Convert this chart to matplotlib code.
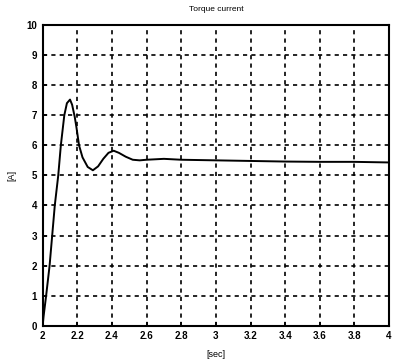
import matplotlib
matplotlib.use("Agg")
import matplotlib.pyplot as plt

# 转矩电流阶跃响应 (从图中读取的点)
t_sec = [2.0, 2.005, 2.02, 2.04, 2.07, 2.09, 2.105, 2.125, 2.14, 2.158, 2.17, 2.185,
         2.195, 2.21, 2.23, 2.26, 2.29, 2.32, 2.35, 2.38, 2.41, 2.44, 2.48, 2.52,
         2.56, 2.6, 2.7, 2.8, 3.0, 3.2, 3.4, 3.6, 3.8, 4.0]
i_amp = [0.0, 0.3, 1.0, 2.0, 4.0, 5.0, 6.0, 7.0, 7.4, 7.52, 7.35, 6.95,
         6.6, 6.0, 5.6, 5.28, 5.17, 5.3, 5.55, 5.75, 5.82, 5.75, 5.62, 5.52,
         5.5, 5.52, 5.55, 5.52, 5.5, 5.48, 5.46, 5.45, 5.45, 5.43]

x_ticks = [2, 2.2, 2.4, 2.6, 2.8, 3, 3.2, 3.4, 3.6, 3.8, 4]
x_labels = ["2", "2.2", "2.4", "2.6", "2.8", "3", "3.2", "3.4", "3.6", "3.8", "4"]
y_ticks = list(range(0, 11))

plt.rcParams['font.family'] = ['Liberation Sans', 'DejaVu Sans']
plt.rcParams['font.weight'] = 'bold'

fig = plt.figure(figsize=(3.95, 3.62), dpi=100)
ax = fig.add_axes([0.108, 0.100, 0.877, 0.831])

ax.plot(t_sec, i_amp, color='black', linewidth=1.4)

ax.set_xlim(2, 4)
ax.set_ylim(0, 10)
ax.set_xticks(x_ticks)
ax.set_xticklabels(x_labels)
ax.set_yticks(y_ticks)
ax.tick_params(labelsize=7, length=3, direction='in', width=1.2, pad=4)
ax.grid(True, color='black', linestyle=(0, (2.5, 2.5)), linewidth=1.2)
for s in ax.spines.values():
    s.set_linewidth(1.5)

ax.set_title('Torque current', fontsize=6, pad=10)
ax.set_xlabel('[sec]', fontsize=6.5, labelpad=6)
ax.set_ylabel('[A]', fontsize=6.5, labelpad=7)

fig.savefig('out.png', dpi=100)
